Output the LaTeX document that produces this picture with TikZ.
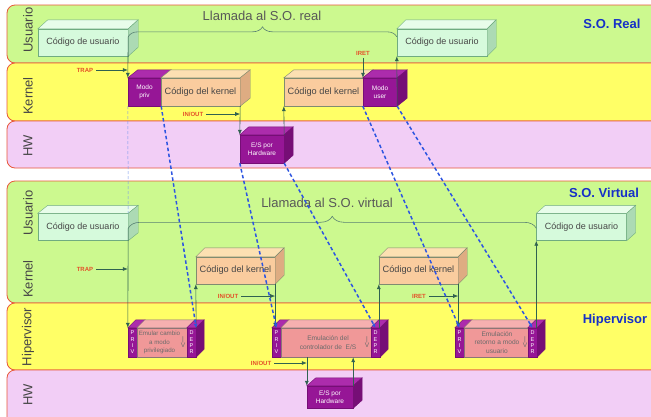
\documentclass[tikz,border=0pt]{standalone}
\usepackage{fontspec}
\setmainfont{Liberation Sans}
\usetikzlibrary{decorations.pathreplacing,arrows.meta}
\definecolor{bandline}{RGB}{232,88,58}
\definecolor{usrband}{RGB}{204,249,143}
\definecolor{kerband}{RGB}{255,255,102}
\definecolor{hwband}{RGB}{242,206,246}
\definecolor{usrfront}{RGB}{214,250,220}
\definecolor{usrtop}{RGB}{232,253,234}
\definecolor{usrside}{RGB}{172,218,180}
\definecolor{usrline}{RGB}{112,172,128}
\definecolor{kerfront}{RGB}{250,204,158}
\definecolor{kertop}{RGB}{252,224,178}
\definecolor{kerside}{RGB}{222,172,130}
\definecolor{kerline}{RGB}{128,140,112}
\definecolor{purp}{RGB}{150,22,150}
\definecolor{purptop}{RGB}{172,44,172}
\definecolor{purpside}{RGB}{118,14,118}
\definecolor{hypfront}{RGB}{240,152,152}
\definecolor{hyptop}{RGB}{246,176,176}
\definecolor{hypline}{RGB}{140,118,118}
\definecolor{arrline}{RGB}{48,98,80}
\definecolor{dashblue}{RGB}{45,85,225}
\definecolor{lightblue}{RGB}{120,150,235}
\definecolor{txt}{RGB}{70,70,70}
\definecolor{titleblue}{RGB}{22,48,200}
\definecolor{evtred}{RGB}{228,80,40}

\begin{document}
\begin{tikzpicture}[x=1pt,y=1pt]
\tikzstyle{every node}+=[inner sep=0pt]
\tikzstyle{band}=[draw=bandline,line width=0.8pt,rounded corners=8pt]
\tikzstyle{lane}=[rotate=90,text=txt,font=\fontsize{13}{15}\selectfont]
\tikzstyle{head}=[text=txt!90,font=\fontsize{13}{15}\selectfont]
\tikzstyle{title}=[text=titleblue,font=\bfseries\fontsize{13}{15}\selectfont]
\tikzstyle{usr}=[draw=usrline,fill=usrfront,text=txt,minimum width=90,minimum height=27,font=\fontsize{9}{11}\selectfont]
\tikzstyle{ker}=[draw=kerline,fill=kerfront,text=txt,minimum width=79,minimum height=28,font=\fontsize{9.2}{11}\selectfont]
\tikzstyle{modebox}=[draw=purpside,fill=purp,text=white,align=center,minimum height=28,font=\fontsize{6.5}{8}\selectfont]
\tikzstyle{hyp}=[draw=hypline,fill=hypfront,minimum height=29]
\tikzstyle{hyptext}=[text=txt!80,align=center,font=\fontsize{6.6}{8.6}\selectfont]
\tikzstyle{strip}=[draw=purpside,fill=purp,text=white,align=center,minimum width=9,minimum height=29,font=\fontsize{5.5}{6.3}\selectfont]
\tikzstyle{evt}=[text=evtred,font=\bfseries\fontsize{6}{7}\selectfont]
\tikzstyle{arr}=[draw=arrline,line width=0.6pt,-{Latex[length=5pt,width=4pt]}]
\tikzstyle{call}=[draw=arrline!80,line width=0.6pt]
\tikzstyle{jump}=[draw=dashblue,line width=1.5pt,dash pattern=on 3.5pt off 2.5pt,-{Latex[length=4pt,width=4pt]}]
\tikzstyle{trace}=[draw=lightblue,line width=0.5pt,dash pattern=on 3pt off 2pt]
\useasboundingbox (0,0) rectangle (651,-416);
\clip (0,0) rectangle (651,-416);
% bands
\draw[band,fill=usrband] (7,-5) rectangle (720,-63);
\draw[band,fill=kerband] (7,-63) rectangle (720,-121);
\draw[band,fill=hwband] (7,-121) rectangle (720,-168);
\draw[band,fill=usrband] (7,-181) rectangle (720,-303);
\draw[band,fill=kerband] (7,-303) rectangle (720,-370);
\draw[band,fill=hwband] (7,-370) rectangle (720,-430);
\node[lane] (lu1) at (28,-30) {Usuario};
\node[lane] (lk1) at (28,-96) {Kernel};
\node[lane] (lh1) at (28,-146) {HW};
\node[lane] (lu2) at (28,-213) {Usuario};
\node[lane] (lk2) at (28,-279) {Kernel};
\node[lane] (lv2) at (28,-337) {Hipervisor};
\node[lane] (lh2) at (28,-395) {HW};
\node[head] (call1) at (262,-16) {Llamada al S.O. real};
\node[head] (call2) at (327,-203) {Llamada al S.O. virtual};
\node[title] (real) at (612,-24) {S.O. Real};
\node[title] (virt) at (604,-193) {S.O. Virtual};
\node[title] (hyper) at (615,-320) {Hipervisor};
% S.O. real
\node[usr] (u1) at (83,-42.5) {Código de usuario};
\filldraw[draw=usrline,fill=usrtop] (u1.north west) -- ++(10,9) -- ([shift={(10,9)}]u1.north east) -- (u1.north east) -- cycle;
\filldraw[draw=usrline,fill=usrside] (u1.north east) -- ++(10,9) -- ([shift={(10,9)}]u1.south east) -- (u1.south east) -- cycle;
\node[usr] (u2) at (442,-42.5) {Código de usuario};
\filldraw[draw=usrline,fill=usrtop] (u2.north west) -- ++(9,9) -- ([shift={(9,9)}]u2.north east) -- (u2.north east) -- cycle;
\filldraw[draw=usrline,fill=usrside] (u2.north east) -- ++(9,9) -- ([shift={(9,9)}]u2.south east) -- (u2.south east) -- cycle;
\node[modebox,minimum width=33] (mp) at (144.5,-92) {Modo\\priv};
\filldraw[draw=purpside,fill=purptop] (mp.north west) -- ++(10,8) -- ([shift={(10,8)}]mp.north east) -- (mp.north east) -- cycle;
\node[ker] (k1) at (200.5,-92) {Código del kernel};
\filldraw[draw=kerline,fill=kertop] (k1.north west) -- ++(10,8) -- ([shift={(10,8)}]k1.north east) -- (k1.north east) -- cycle;
\filldraw[draw=kerline,fill=kerside] (k1.north east) -- ++(10,8) -- ([shift={(10,8)}]k1.south east) -- (k1.south east) -- cycle;
\node[ker] (k2) at (323.5,-92) {Código del kernel};
\filldraw[draw=kerline,fill=kertop] (k2.north west) -- ++(10,8) -- ([shift={(10,8)}]k2.north east) -- (k2.north east) -- cycle;
\node[modebox,minimum width=34] (mu) at (380,-92) {Modo\\user};
\filldraw[draw=purpside,fill=purptop] (mu.north west) -- ++(10,8) -- ([shift={(10,8)}]mu.north east) -- (mu.north east) -- cycle;
\filldraw[draw=purpside,fill=purpside] (mu.north east) -- ++(10,8) -- ([shift={(10,8)}]mu.south east) -- (mu.south east) -- cycle;
\node[modebox,minimum width=44] (es1) at (262,-149) {E/S por\\Hardware};
\filldraw[draw=purpside,fill=purptop] (es1.north west) -- ++(9,8) -- ([shift={(9,8)}]es1.north east) -- (es1.north east) -- cycle;
\filldraw[draw=purpside,fill=purpside] (es1.north east) -- ++(9,8) -- ([shift={(9,8)}]es1.south east) -- (es1.south east) -- cycle;
% S.O. virtual
\node[usr] (v1) at (83,-227) {Código de usuario};
\filldraw[draw=usrline,fill=usrtop] (v1.north west) -- ++(10,8) -- ([shift={(10,8)}]v1.north east) -- (v1.north east) -- cycle;
\filldraw[draw=usrline,fill=usrside] (v1.north east) -- ++(10,8) -- ([shift={(10,8)}]v1.south east) -- (v1.south east) -- cycle;
\node[usr] (v2) at (581.5,-227) {Código de usuario};
\filldraw[draw=usrline,fill=usrtop] (v2.north west) -- ++(9,8) -- ([shift={(9,8)}]v2.north east) -- (v2.north east) -- cycle;
\filldraw[draw=usrline,fill=usrside] (v2.north east) -- ++(9,8) -- ([shift={(9,8)}]v2.south east) -- (v2.south east) -- cycle;
\node[ker,minimum height=27] (vk1) at (235.5,-270.5) {Código del kernel};
\filldraw[draw=kerline,fill=kertop] (vk1.north west) -- ++(9,9) -- ([shift={(9,9)}]vk1.north east) -- (vk1.north east) -- cycle;
\filldraw[draw=kerline,fill=kerside] (vk1.north east) -- ++(9,9) -- ([shift={(9,9)}]vk1.south east) -- (vk1.south east) -- cycle;
\node[ker,minimum height=27] (vk2) at (418.5,-270.5) {Código del kernel};
\filldraw[draw=kerline,fill=kertop] (vk2.north west) -- ++(9,9) -- ([shift={(9,9)}]vk2.north east) -- (vk2.north east) -- cycle;
\filldraw[draw=kerline,fill=kerside] (vk2.north east) -- ++(9,9) -- ([shift={(9,9)}]vk2.south east) -- (vk2.south east) -- cycle;
% hipervisor
\node[strip] (h1p) at (132.5,-342.5) {P\\R\\I\\V};
\node[hyp,minimum width=50] (h1) at (162,-342.5) {};
\node[strip] (h1d) at (191.5,-342.5) {D\\E\\P\\R};
\filldraw[draw=purpside,fill=purptop] (h1p.north west) -- ++(8,8) -- ([shift={(8,8)}]h1p.north east) -- (h1p.north east) -- cycle;
\filldraw[draw=hypline,fill=hyptop] (h1.north west) -- ++(8,8) -- ([shift={(8,8)}]h1.north east) -- (h1.north east) -- cycle;
\filldraw[draw=purpside,fill=purptop] (h1d.north west) -- ++(8,8) -- ([shift={(8,8)}]h1d.north east) -- (h1d.north east) -- cycle;
\filldraw[draw=purpside,fill=purpside] (h1d.north east) -- ++(8,8) -- ([shift={(8,8)}]h1d.south east) -- (h1d.south east) -- cycle;
\node[hyptext,font=\fontsize{6.2}{8.4}\selectfont] (h1t) at (159.5,-342.5) {Emular cambio\\a modo\\privilegiado};
\node[hyptext] (h1a) at (183,-342) {|\\[-2pt]V};
\node[strip] (h2p) at (276.5,-342.5) {P\\R\\I\\V};
\node[hyp,minimum width=90] (h2) at (326,-342.5) {};
\node[strip] (h2d) at (375.5,-342.5) {D\\E\\P\\R};
\filldraw[draw=purpside,fill=purptop] (h2p.north west) -- ++(8,8) -- ([shift={(8,8)}]h2p.north east) -- (h2p.north east) -- cycle;
\filldraw[draw=hypline,fill=hyptop] (h2.north west) -- ++(8,8) -- ([shift={(8,8)}]h2.north east) -- (h2.north east) -- cycle;
\filldraw[draw=purpside,fill=purptop] (h2d.north west) -- ++(8,8) -- ([shift={(8,8)}]h2d.north east) -- (h2d.north east) -- cycle;
\filldraw[draw=purpside,fill=purpside] (h2d.north east) -- ++(8,8) -- ([shift={(8,8)}]h2d.south east) -- (h2d.south east) -- cycle;
\node[hyptext] (h2t) at (328,-342.5) {Emulación del\\controlador de~ E/S};
\node[hyptext] (h2a) at (367,-342) {|\\[-2pt]V};
\node[strip] (h3p) at (459.5,-342.5) {P\\R\\I\\V};
\node[hyp,minimum width=64] (h3) at (496,-342.5) {};
\node[strip] (h3d) at (532.5,-342.5) {D\\E\\P\\R};
\filldraw[draw=purpside,fill=purptop] (h3p.north west) -- ++(8,8) -- ([shift={(8,8)}]h3p.north east) -- (h3p.north east) -- cycle;
\filldraw[draw=hypline,fill=hyptop] (h3.north west) -- ++(8,8) -- ([shift={(8,8)}]h3.north east) -- (h3.north east) -- cycle;
\filldraw[draw=purpside,fill=purptop] (h3d.north west) -- ++(8,8) -- ([shift={(8,8)}]h3d.north east) -- (h3d.north east) -- cycle;
\filldraw[draw=purpside,fill=purpside] (h3d.north east) -- ++(8,8) -- ([shift={(8,8)}]h3d.south east) -- (h3d.south east) -- cycle;
\node[hyptext] (h3t) at (497,-342.5) {Emulación\\retorno a modo\\usuario};
\node[hyptext] (h3a) at (525,-342) {|\\[-2pt]V};
\node[modebox,minimum width=46,minimum height=22] (es2) at (330,-397) {E/S por\\Hardware};
\filldraw[draw=purpside,fill=purptop] (es2.north west) -- ++(9,8) -- ([shift={(9,8)}]es2.north east) -- (es2.north east) -- cycle;
\filldraw[draw=purpside,fill=purpside] (es2.north east) -- ++(9,8) -- ([shift={(9,8)}]es2.south east) -- (es2.south east) -- cycle;
% calls and traps, real
\draw[call,decorate,decoration={brace,amplitude=10pt}] ([yshift=-8]u1.north east) -- ([yshift=-8]u2.north west);
\draw[arr] ([yshift=-8]u1.north east) -- (mp.north west);
\node[evt] (trap1) at (85,-70) {TRAP};
\draw[arr] ([xshift=3]trap1.east) -- (trap1.east -| mp.west);
\node[evt] (io1) at (193,-114) {IN/OUT};
\draw[arr] ([xshift=3]io1.east) -- (io1.east -| k1.east);
\draw[arr] (k1.south east) -- (es1.north west);
\draw[arr] (es1.north east) -- (k2.south west);
\node[evt] (iret1) at (363,-53) {IRET};
\draw[arr] ([yshift=-3]iret1.south) -- (iret1.south |- mu.north);
\draw[arr] (mu.south east) -- (u2.south west);
% calls and traps, virtual
\draw[call,decorate,decoration={brace,amplitude=12pt}] ([yshift=-15]v1.north east) -- ([yshift=-15]v2.north west);
\draw[arr] ([yshift=-15]v1.north east) -- (h1p.north west);
\node[evt] (trap2) at (85,-269) {TRAP};
\draw[arr] ([xshift=3]trap2.east) -- (trap2.east -| h1p.west);
\draw[arr] (h1d.north east) -- (vk1.south west);
\node[evt] (io2) at (228,-296) {IN/OUT};
\draw[arr] ([xshift=3]io2.east) -- (io2.east -| vk1.east);
\draw[arr] (vk1.south east) -- (vk1.south east |- h2p.north);
\draw[arr] (vk2.south west |- h2d.north) -- (vk2.south west);
\node[evt] (iret2) at (419,-296) {IRET};
\draw[arr] ([xshift=3]iret2.east) -- (iret2.east -| vk2.east);
\draw[arr] (vk2.south east) -- (vk2.south east |- h3p.north);
\draw[arr] (v2.south west |- h3d.north) -- (v2.south west);
\node[evt] (io3) at (261,-363) {IN/OUT};
\draw[arr] ([xshift=3]io3.east) -- (io3.east -| es2.west);
\draw[arr] (es2.north west |- h2.south) -- (es2.north west);
\draw[arr] (es2.north east) -- (es2.north east |- h2.south);
% real -> virtual
\draw[trace] (mp.south west) -- (v1.north east);
\draw[jump] (mp.south east) -- (h1d.north east);
\draw[jump] (es1.south west) -- (h2p.north);
\draw[jump] (es1.south east) -- (h2d.north);
\draw[jump] (mu.south west) -- (h3p.north);
\draw[jump] (mu.south east) -- (h3d.north);
\end{tikzpicture}
\end{document}
